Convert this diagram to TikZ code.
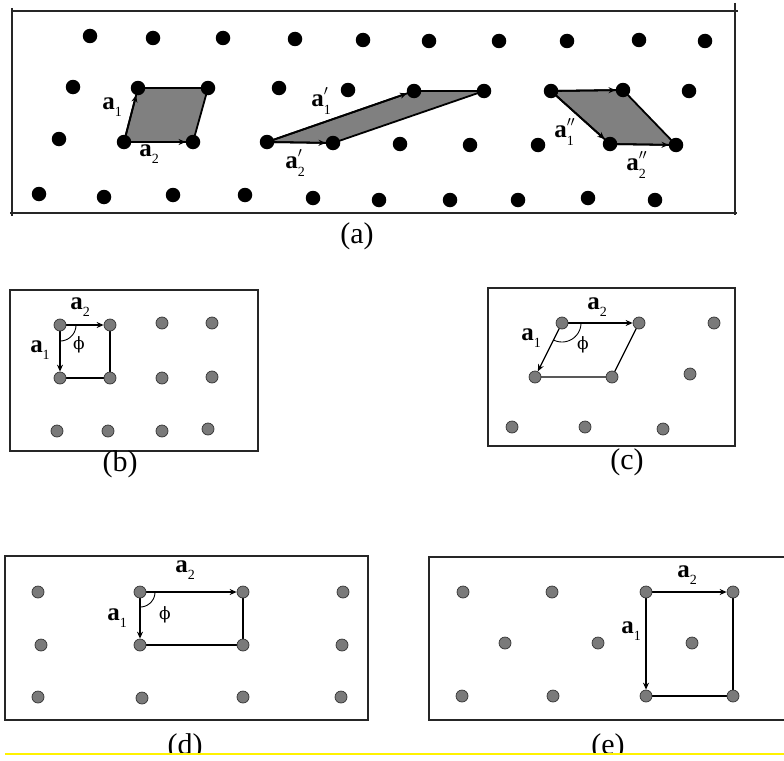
\documentclass[tikz,border=0pt]{standalone}
\usepackage{fontspec}
\setmainfont{Liberation Serif}
\newfontfamily\phifont{DejaVu Serif}
\usetikzlibrary{arrows.meta,backgrounds}
\definecolor{dotgray}{HTML}{7A7A7A}
\definecolor{cellgray}{HTML}{808080}
\newcommand{\va}[2]{\textbf{a}\makebox[0pt][l]{\raisebox{0.45em}{\fontsize{14}{14}\selectfont$#1$}}\raisebox{-0.3em}{\fontsize{14}{14}\selectfont #2}}
\tikzset{
  bdot/.style={circle, fill=black, inner sep=0pt, minimum size=14.5pt},
  gdot/.style={circle, fill=dotgray, draw=black!80, line width=0.7pt, inner sep=0pt, minimum size=12pt},
  boxframe/.style={line width=1.4pt, black!85},
  celledge/.style={line width=1.2pt},
  thickedge/.style={line width=1.8pt},
  vec/.style={-{Stealth[length=7pt,width=6pt]}},
  lab/.style={font=\fontsize{25}{25}\selectfont, inner sep=0pt},
  captext/.style={font=\fontsize{30}{30}\selectfont, inner sep=0pt},
  philab/.style={font=\phifont\fontsize{17}{17}\selectfont, inner sep=0pt},
}
\begin{document}
\begin{tikzpicture}[x=1pt,y=-1pt]
\useasboundingbox (0,0) rectangle (784,760);
\begin{scope}[on background layer]
\fill[white] (0,0) rectangle (784,760);
\end{scope}

% ---------------- panel (a) ----------------
\foreach \x/\y [count=\i] in {90/36,153/38,223/38,295/39,363/40,429/41,499/41,567/41,639/40,705/41}
  \node[bdot] (p1-\i) at (\x,\y) {};
\foreach \x/\y [count=\i] in {73/87,138/88,208/88,279/88,348/90,414/91,484/91,551/91,623/90,689/91}
  \node[bdot] (p2-\i) at (\x,\y) {};
\foreach \x/\y [count=\i] in {59/139,124/142,193/142,267/142,333/143,400/144,470/145,538/145,610/144,676/145}
  \node[bdot] (p3-\i) at (\x,\y) {};
\foreach \x/\y [count=\i] in {39/194,104/197,173/195,245/195,313/198,379/200,450/200,518/200,588/198,655/200}
  \node[bdot] (p4-\i) at (\x,\y) {};

\begin{scope}[on background layer]
  \draw[boxframe] (12,8) -- (12,216);
  \draw[boxframe] (12,11) -- (738,11);
  \draw[boxframe] (735,3) -- (735,215);
  \draw[boxframe] (10,213) -- (737,213);
  % cell 1
  \filldraw[fill=cellgray, thickedge] (p3-2.center) -- (p3-3.center) -- (p2-3.center) -- (p2-2.center) -- cycle;
  \draw[thickedge, vec] (p3-2.center) -- (p2-2);
  \draw[thickedge, vec] (p3-2.center) -- (p3-3);
  % cell 2
  \filldraw[fill=cellgray, thickedge] (p3-4.center) -- (p3-5.center) -- (p2-7.center) -- (p2-6.center) -- cycle;
  \draw[thickedge, vec] (p3-4.center) -- (p2-6);
  \draw[thickedge, vec] (p3-4.center) -- (p3-5);
  % cell 3
  \filldraw[fill=cellgray, thickedge] (p2-8.center) -- (p2-9.center) -- (p3-10.center) -- (p3-9.center) -- cycle;
  \draw[thickedge, vec] (p2-8.center) -- (p3-9);
  \draw[thickedge, vec] (p2-8.center) -- (p2-9);
  \draw[thickedge, vec] (p3-9.center) -- (p3-10);
\end{scope}
\node[lab] (la1) at (112,107) {\va{}{1}};
\node[lab] (la2) at (149,154) {\va{}{2}};
\node[lab] (la1p) at (321,101) {\va{\prime}{1}};
\node[lab] (la2p) at (295,163) {\va{\prime}{2}};
\node[lab] (la1pp) at (564,132) {\va{\prime\prime}{1}};
\node[lab] (la2pp) at (636,165) {\va{\prime\prime}{2}};
\node[captext] (capa) at (357,236) {(a)};

% ---------------- panel (b) ----------------
\foreach \x/\y [count=\i] in {60/325,110/325,162/323,212/323,60/378,110/378,162/378,212/377,57/431,108/431,162/431,208/429}
  \node[gdot] (b\i) at (\x,\y) {};
\begin{scope}[on background layer]
  \draw[boxframe] (10,290) rectangle (258,451);
  \draw[celledge] (b2.center) -- (b6.center) -- (b5.center);
  \draw[celledge, vec] (b1.center) -- (b2);
  \draw[celledge, vec] (b1.center) -- (b5);
  \draw[line width=0.9pt] plot[domain=0:90, samples=20] ({60+16*cos(\x)},{325+16*sin(\x)});
\end{scope}
\node[lab] (lb2) at (80,307) {\va{}{2}};
\node[lab] (lb1) at (40,350) {\va{}{1}};
\node[philab] (lbphi) at (79,345) {ϕ};
\node[captext] (capb) at (120,464) {(b)};

% ---------------- panel (c) ----------------
\foreach \x/\y [count=\i] in {562/323,639/323,714/323,535/377,612/377,690/374,512/427,585/427,663/429}
  \node[gdot] (c\i) at (\x,\y) {};
\begin{scope}[on background layer]
  \draw[boxframe] (488,288) rectangle (735,446);
  \draw[celledge] (c2.center) -- (c5.center) -- (c4.center);
  \draw[celledge, vec] (c1.center) -- (c2);
  \draw[celledge, vec] (c1.center) -- (c4);
  \draw[line width=0.9pt] plot[domain=0:116, samples=24] ({562+19*cos(\x)},{323+19*sin(\x)});
\end{scope}
\node[lab] (lc2) at (597,307) {\va{}{2}};
\node[lab] (lc1) at (531,338) {\va{}{1}};
\node[philab] (lcphi) at (583,345) {ϕ};
\node[captext] (capc) at (627,462) {(c)};

% ---------------- panel (d) ----------------
\foreach \x/\y [count=\i] in {38/592,140/592,243/592,343/592,41/645,140/645,243/645,342/645,38/697,142/698,243/697,341/697}
  \node[gdot] (d\i) at (\x,\y) {};
\begin{scope}[on background layer]
  \draw[boxframe] (5,556) rectangle (368,720);
  \draw[celledge] (d3.center) -- (d7.center) -- (d6.center);
  \draw[celledge, vec] (d2.center) -- (d3);
  \draw[celledge, vec] (d2.center) -- (d6);
  \draw[line width=0.9pt] plot[domain=0:90, samples=20] ({140+15*cos(\x)},{592+15*sin(\x)});
\end{scope}
\node[lab] (ld2) at (185,570) {\va{}{2}};
\node[lab] (ld1) at (117,618) {\va{}{1}};
\node[philab] (ldphi) at (165,615) {ϕ};

% ---------------- panel (e) ----------------
\foreach \x/\y [count=\i] in {463/592,552/592,646/592,733/592,505/643,598/643,692/643,462/696,553/696,646/696,733/696}
  \node[gdot] (e\i) at (\x,\y) {};
\begin{scope}[on background layer]
  \draw[boxframe] (784,557) -- (429,557) -- (429,720) -- (784,720);
  \draw[celledge] (e4.center) -- (e11.center) -- (e10.center);
  \draw[celledge, vec] (e3.center) -- (e4);
  \draw[celledge, vec] (e3.center) -- (e10);
\end{scope}
\node[lab] (le2) at (687,575) {\va{}{2}};
\node[lab] (le1) at (631,631) {\va{}{1}};

% captions (d), (e) cut by the yellow line
\begin{scope}
  \clip (0,0) rectangle (784,752.5);
  \node[captext] (capd) at (185,747) {(d)};
  \node[captext] (cape) at (608,747) {(e)};
\end{scope}
\draw[yellow, line width=2.5pt] (5,754) coordinate (yl) -- (784,754) coordinate (yr);
\end{tikzpicture}
\end{document}
